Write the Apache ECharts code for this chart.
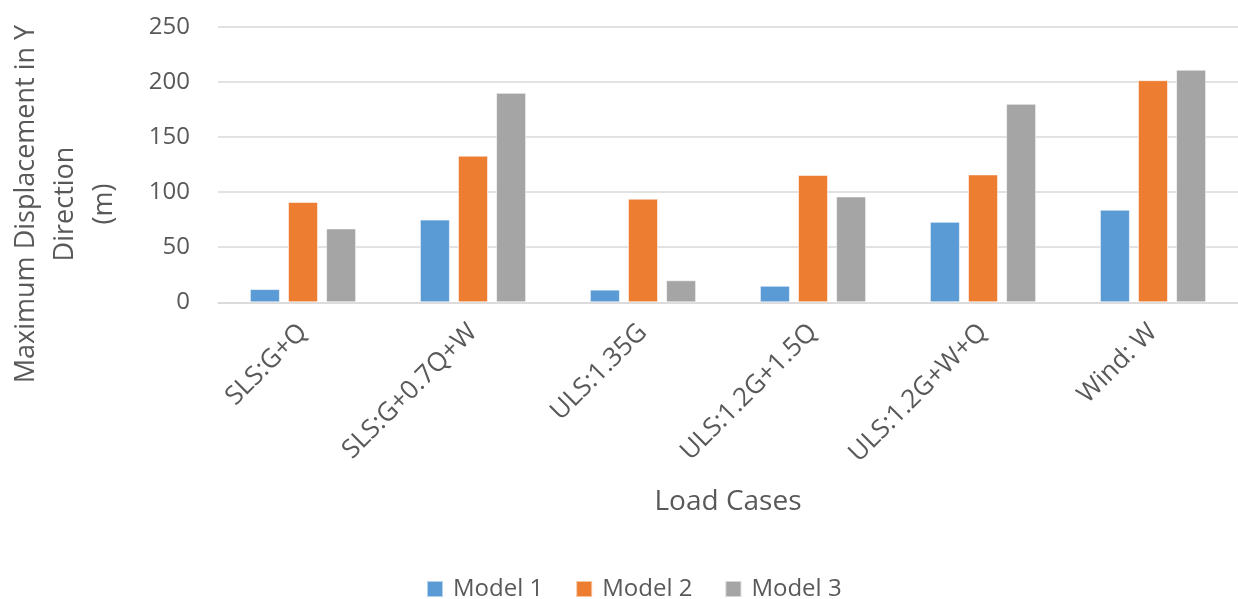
<!DOCTYPE html>
<html>
<head>
<meta charset="utf-8">
<script src="https://cdn.jsdelivr.net/npm/echarts@6/dist/echarts.min.js"></script>
<style>
  html, body { margin: 0; padding: 0; background: #fff; }
  #chart { width: 1238px; height: 599px; }
</style>
</head>
<body>
<div id="chart"></div>
<script>
// Load cases along the x axis
const categories = ['SLS:G+Q', 'SLS:G+0.7Q+W', 'ULS:1.35G', 'ULS:1.2G+1.5Q', 'ULS:1.2G+W+Q', 'Wind: W'];

// Maximum displacement in Y direction (m) for each model
const model1 = [12, 75, 11.5, 15, 73, 84];
const model2 = [91, 133, 94, 115.5, 116, 201.5];
const model3 = [67, 190, 20, 96, 180, 211];

const seriesNames = ['Model 1', 'Model 2', 'Model 3'];
const yTicks = { min: 0, max: 250, interval: 50 };

const FONT = '"Open Sans"';
const TEXT = '#595959';

const chart = echarts.init(document.getElementById('chart'), null, { renderer: 'canvas' });

const barStyle = (color) => ({
  color: color,
  borderColor: 'rgba(255,255,255,0.55)',
  borderWidth: 1
});

chart.setOption({
  animation: false,
  textStyle: { fontFamily: FONT },
  grid: { left: 218, top: 26.7, width: 1023.4, height: 275.6, containLabel: false },
  legend: {
    left: 421,
    top: 572,
    itemWidth: 16,
    itemHeight: 16,
    itemGap: 32,
    icon: 'rect',
    textStyle: { fontFamily: FONT, fontSize: 24, color: TEXT, padding: [0, 0, 0, 5] },
    data: seriesNames
  },
  xAxis: {
    type: 'category',
    data: categories,
    name: 'Load Cases',
    nameLocation: 'middle',
    nameGap: 186,
    nameTextStyle: { fontFamily: FONT, fontSize: 28, color: TEXT },
    axisLine: { show: true, lineStyle: { color: '#D9D9D9', width: 1.5 } },
    axisTick: { show: false },
    axisLabel: { rotate: 45, margin: 26, fontFamily: FONT, fontSize: 26, color: TEXT, interval: 0 }
  },
  yAxis: {
    type: 'value',
    min: yTicks.min,
    max: yTicks.max,
    interval: yTicks.interval,
    axisLine: { show: false },
    axisTick: { show: false },
    splitLine: { lineStyle: { color: '#D9D9D9', width: 1.5 } },
    axisLabel: { margin: 28, fontFamily: FONT, fontSize: 24, color: TEXT }
  },
  graphic: [{
    type: 'text',
    x: 65,
    y: 204,
    rotation: Math.PI / 2,
    style: {
      text: 'Maximum Displacement in Y\nDirection\n(m)',
      fontFamily: FONT,
      fontSize: 27,
      lineHeight: 39,
      fill: TEXT,
      align: 'center',
      verticalAlign: 'middle'
    }
  }],
  series: [
    { name: seriesNames[0], type: 'bar', data: model1, barWidth: 30, barGap: '27%', itemStyle: barStyle('#5B9BD5') },
    { name: seriesNames[1], type: 'bar', data: model2, barWidth: 30, barGap: '27%', itemStyle: barStyle('#ED7D31') },
    { name: seriesNames[2], type: 'bar', data: model3, barWidth: 30, barGap: '27%', itemStyle: barStyle('#A5A5A5') }
  ]
});
</script>
</body>
</html>
